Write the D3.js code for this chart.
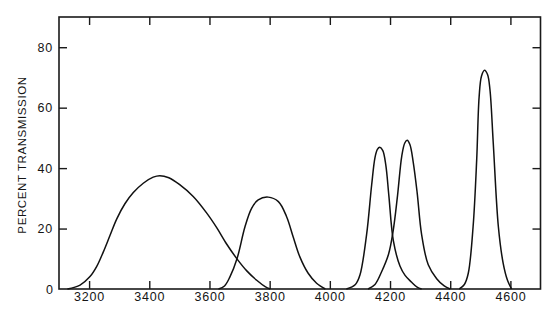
<!DOCTYPE html>
<html lang="en">
<head>
    <meta charset="utf-8" />
    <title>Percent transmission</title>
    <script src="https://d3js.org/d3.v7.min.js"></script>
    <style>
        body { margin: 0; background: #fff; }
        text { font-family: "Liberation Sans", Arial, sans-serif; fill: #151515; }
    </style>
</head>
<body>
    <script>
        // Wavelength ticks and percent ticks
        const xTicks = [3200, 3400, 3600, 3800, 4000, 4200, 4400, 4600];
        const yTicks = [0, 20, 40, 60, 80];

        // Filter curves: [wavelength, percent]
        const filter1 = [[3128, 0], [3170, 1.3], [3203, 4.1], [3225, 7.4], [3247, 12.2], [3269, 17.6], [3292, 23.2],
            [3319, 28.2], [3347, 31.9], [3380, 35], [3413, 37], [3435, 37.5], [3465, 36.8], [3500, 34.6],
            [3546, 30.6], [3591, 25.1], [3624, 20.3], [3657, 14.9], [3692, 9.9], [3724, 6], [3757, 2.9],
            [3785, 0.8], [3802, 0]];
        const filter2 = [[3630, 0], [3650, 1], [3668, 4], [3692, 10.2], [3718, 20.6], [3740, 26.7], [3762, 29.5],
            [3795, 30.4], [3829, 28.9], [3856, 24], [3878, 17.3], [3900, 10.7], [3928, 5.2], [3956, 1.9], [3985, 0]];
        const filter3 = [[4055, 0], [4085, 1.5], [4100, 4.6], [4122, 17.9], [4139, 34.5], [4150, 43.5], [4158, 46.2],
            [4166, 46.9], [4176, 45.8], [4186, 41], [4196, 31], [4211, 16], [4233, 7.6], [4250, 4.5], [4271, 2.3],
            [4290, 0.6], [4305, 0]];
        const filter4 = [[4127, 0], [4150, 1.5], [4172, 5.7], [4195, 11.5], [4210, 19], [4225, 31], [4239, 44],
            [4249, 48.3], [4257, 49.2], [4266, 47.8], [4277, 42], [4290, 32], [4305, 18], [4327, 8], [4355, 3.4],
            [4380, 1], [4400, 0]];
        const filter5 = [[4430, 0], [4447, 1.5], [4460, 5.2], [4476, 20.6], [4488, 42.8], [4496, 63.5], [4504, 70.5],
            [4514, 72.4], [4524, 71], [4532, 66], [4543, 48.3], [4560, 20.6], [4576, 8.5], [4590, 3], [4604, 0]];
        const filters = [filter1, filter2, filter3, filter4, filter5];

        const width = 560, height = 323;
        const plotLeft = 59, plotRight = 540.5, plotTop = 17, plotBottom = 289;

        const svg = d3.select("body").append("svg")
            .attr("width", width)
            .attr("height", height);

        const x = d3.scaleLinear().domain([3100, 4700]).range([plotLeft, plotRight]);
        const y = d3.scaleLinear().domain([0, 90]).range([plotBottom, plotTop]);

        // frame with inward ticks on all four sides
        const axisStyle = g => {
            g.select(".domain").remove();
            g.selectAll("line").attr("stroke", "#1a1a1a").attr("stroke-width", 1.4);
            g.selectAll("text").attr("font-size", 12.5).style("letter-spacing", "0.8px");
        };

        svg.append("g")
            .attr("transform", `translate(0,${plotBottom})`)
            .call(d3.axisBottom(x).tickValues(xTicks).tickFormat(d3.format("d")).tickSize(-8).tickPadding(3))
            .call(axisStyle);

        svg.append("g")
            .attr("transform", `translate(0,${plotTop})`)
            .call(d3.axisTop(x).tickValues(xTicks).tickSize(-8).tickFormat(""))
            .call(axisStyle);

        svg.append("g")
            .attr("transform", `translate(${plotLeft},0)`)
            .call(d3.axisLeft(y).tickValues(yTicks.filter(d => d > 0)).tickSize(-8).tickPadding(6))
            .call(axisStyle);

        svg.append("g")
            .attr("transform", `translate(${plotRight},0)`)
            .call(d3.axisRight(y).tickValues(yTicks.filter(d => d > 0)).tickSize(-8).tickFormat(""))
            .call(axisStyle);

        // the 0 label sits at the corner, without a tick
        svg.append("text")
            .attr("x", plotLeft - 6)
            .attr("y", y(0))
            .attr("dy", "0.36em")
            .attr("text-anchor", "end")
            .attr("font-size", 12.5)
            .text("0");

        svg.append("rect")
            .attr("x", plotLeft)
            .attr("y", plotTop)
            .attr("width", plotRight - plotLeft)
            .attr("height", plotBottom - plotTop)
            .attr("fill", "none")
            .attr("stroke", "#1a1a1a")
            .attr("stroke-width", 1.6);

        svg.append("text")
            .attr("transform", `translate(26,${(plotTop + plotBottom) / 2 + 2}) rotate(-90)`)
            .attr("text-anchor", "middle")
            .attr("font-size", 11.5)
            .style("letter-spacing", "0.6px")
            .text("PERCENT TRANSMISSION");

        const line = d3.line()
            .curve(d3.curveCatmullRom.alpha(0.5))
            .x(d => x(d[0]))
            .y(d => y(d[1]));

        svg.selectAll(".filter")
            .data(filters)
            .enter().append("path")
            .attr("class", "filter")
            .attr("d", line)
            .attr("fill", "none")
            .attr("stroke", "#111")
            .attr("stroke-width", 1.5);
    </script>
</body>
</html>
